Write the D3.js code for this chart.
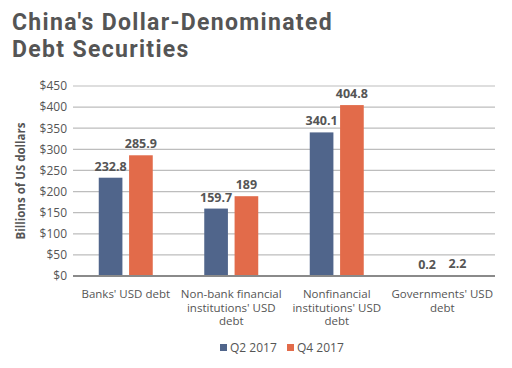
<!DOCTYPE html>
<html><head><meta charset="utf-8">
<script src="https://cdn.jsdelivr.net/npm/d3@7"></script>
<style>body{margin:0;background:#fff}svg{display:block}text{font-family:"Open Sans",sans-serif}</style>
</head><body><svg id="c" width="512" height="368"></svg>
<script>
const categories = [["Banks' USD debt"], ["Non-bank financial", "institutions' USD", "debt"], ["Nonfinancial", "institutions' USD", "debt"], ["Governments' USD", "debt"]];
const seriesNames = ["Q2 2017", "Q4 2017"];
const q2 = [232.8, 159.7, 340.1, 0.2];
const q4 = [285.9, 189, 404.8, 2.2];
const labelsQ2 = ["232.8", "159.7", "340.1", "0.2"];
const labelsQ4 = ["285.9", "189", "404.8", "2.2"];
const yTicks = [0, 50, 100, 150, 200, 250, 300, 350, 400, 450];
const titleLines = ["China's Dollar-Denominated", "Debt Securities"];
const colors = ["#50658b", "#e26b4a"];

const svg = d3.select("#c");
const pLeft = 73, pRight = 495, pTop = 86, pBottom = 276;
const x = d3.scaleBand().domain(d3.range(4)).range([pLeft, pRight]);
const y = d3.scaleLinear().domain([0, 450]).range([pBottom, pTop]);
const x1 = d3.scaleBand().domain([0, 1]).range([0, 54]).paddingInner(0.22);

// title
const t = svg.append("text").attr("font-size", 23).attr("font-weight", 700)
   .attr("fill", "#555").style("font-family", "Roboto, sans-serif");
titleLines.forEach((s, i) => t.append("tspan").attr("x", 12).attr("y", 30 + i * 27).text(s));
const tw = t.select("tspan").node().getComputedTextLength();
const nch = titleLines[0].length;
t.attr("letter-spacing", Math.max(0, (321 - tw) / nch));

// gridlines
svg.append("g").selectAll("line").data(yTicks.filter(d => d > 0)).join("line")
  .attr("x1", pLeft).attr("x2", pRight).attr("y1", d => y(d)).attr("y2", d => y(d))
  .attr("stroke", "#bdbdbd").attr("stroke-width", 1.2);

// y axis
const ya = svg.append("g").attr("transform", `translate(${pLeft},0)`)
  .call(d3.axisLeft(y).tickValues(yTicks).tickSize(0).tickPadding(6).tickFormat(d => "$" + d));
ya.select(".domain").remove();
ya.selectAll("text").attr("font-size", 12).attr("fill", "#555").style("font-family", '"Open Sans",sans-serif');

svg.append("text").attr("transform", `translate(25,${y(225)}) rotate(-90)`).attr("text-anchor", "middle")
  .attr("font-size", 11.5).attr("font-weight", 700).attr("fill", "#555").text("Billions of US dollars");

// bars
const series = [q2, q4], labels = [labelsQ2, labelsQ4];
series.forEach((vals, s) => {
  const g = svg.append("g");
  g.selectAll("rect").data(vals).join("rect")
    .attr("x", (d, i) => x(i) + x.bandwidth() / 2 - 27 + x1(s))
    .attr("width", x1.bandwidth())
    .attr("y", d => y(d)).attr("height", d => pBottom - y(d))
    .attr("fill", colors[s]);
  g.selectAll("text").data(vals).join("text")
    .attr("x", (d, i) => x(i) + x.bandwidth() / 2 - 27 + x1(s) + x1.bandwidth() / 2)
    .attr("y", d => y(d) - 7)
    .attr("text-anchor", "middle").attr("font-size", 12.5).attr("font-weight", 700).attr("fill", "#555")
    .text((d, i) => labels[s][i]);
});

// baseline
svg.append("line").attr("x1", pLeft).attr("x2", pRight).attr("y1", pBottom).attr("y2", pBottom)
  .attr("stroke", "#8a8a8a").attr("stroke-width", 1.8);

// category labels
categories.forEach((lines, i) => {
  const tx = svg.append("text").attr("text-anchor", "middle").attr("font-size", 11.5).attr("fill", "#555");
  lines.forEach((l, j) => tx.append("tspan").attr("x", x(i) + x.bandwidth() / 2).attr("y", 298 + j * 13.5).text(l));
});

// legend
const lg = svg.append("g");
const lx = [220, 287];
seriesNames.forEach((n, i) => {
  lg.append("rect").attr("x", lx[i]).attr("y", 344).attr("width", 7).attr("height", 7).attr("fill", colors[i]);
  lg.append("text").attr("x", lx[i] + 10).attr("y", 352).attr("font-size", 12).attr("fill", "#555").text(n);
});
</script></body></html>
